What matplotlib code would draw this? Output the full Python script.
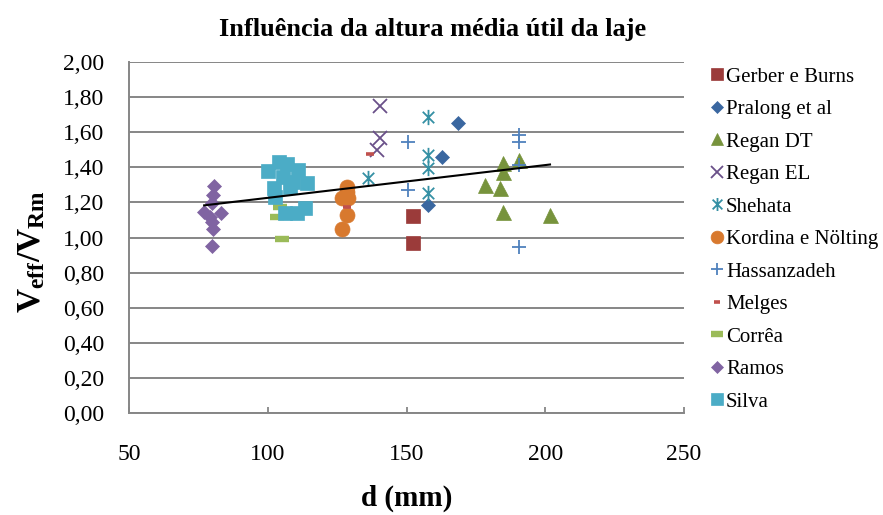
import numpy as np
import matplotlib
matplotlib.use("Agg")
import matplotlib.pyplot as plt
from matplotlib.path import Path
from matplotlib.ticker import FuncFormatter, MultipleLocator

plt.rcParams["font.family"] = ["Liberation Serif", "DejaVu Serif"]
plt.rcParams["mathtext.fontset"] = "custom"
plt.rcParams["mathtext.rm"] = "Liberation Serif"
plt.rcParams["mathtext.bf"] = "Liberation Serif:bold"
plt.rcParams["mathtext.it"] = "Liberation Serif:italic"

# ---- data: effective depth d (mm) and V_eff / V_Rm per author ----
gerber_d = [152.4, 152.4]
gerber_v = [1.123, 0.967]

pralong_d = [168.6, 162.6, 157.8]
pralong_v = [1.654, 1.460, 1.185]

regan_dt_d = [178.2, 184.6, 184.6, 183.6, 184.8, 190.6, 201.7]
regan_dt_v = [1.299, 1.422, 1.375, 1.280, 1.147, 1.441, 1.128]

regan_el_d = [140.4, 140.4, 139.2]
regan_el_v = [1.750, 1.565, 1.498]

shehata_d = [136.2, 157.8, 157.8, 157.8, 157.8]
shehata_v = [1.337, 1.684, 1.470, 1.394, 1.252]

kordina_d = [128.4, 128.6, 126.6, 129.0, 128.4, 126.6]
kordina_v = [1.289, 1.260, 1.223, 1.223, 1.128, 1.047]

hassan_d = [150.6, 150.6, 190.6, 190.6, 190.6, 190.6]
hassan_v = [1.545, 1.271, 1.584, 1.545, 1.413, 0.948]

melges_d = [136.8, 128.6]
melges_v = [1.474, 1.176]

correa_d = [104.3, 103.1, 105.2]
correa_v = [1.176, 1.119, 0.992]

ramos_d = [80.5, 80.1, 79.9, 77.0, 83.0, 79.1, 79.9, 80.3, 79.7]
ramos_v = [1.293, 1.242, 1.195, 1.147, 1.138, 1.119, 1.090, 1.047, 0.952]

silva_d = [104.1, 106.7, 100.1, 110.9, 105.5, 114.0, 109.1, 102.2, 107.9,
           102.5, 106.1, 110.3, 113.3]
silva_v = [1.432, 1.419, 1.379, 1.384, 1.346, 1.309, 1.318, 1.280, 1.289,
           1.232, 1.138, 1.138, 1.166]

labels = ["Gerber e Burns", "Pralong et al", "Regan DT", "Regan EL", "Shehata",
          "Kordina e Nölting", "Hassanzadeh", "Melges", "Corrêa", "Ramos", "Silva"]

# asterisk marker: vertical stroke plus two diagonals
ast = Path([(0, -1), (0, 1), (-0.75, -0.75), (0.75, 0.75), (-0.75, 0.75), (0.75, -0.75)],
           [Path.MOVETO, Path.LINETO, Path.MOVETO, Path.LINETO, Path.MOVETO, Path.LINETO])

styles = [
    dict(marker="s", ms=10.0, mfc="#9B3B3A", mec="#9B3B3A", mew=0.5),
    dict(marker="D", ms=7.4, mfc="#3A67A0", mec="#3A67A0", mew=0.5),
    dict(marker="^", ms=10.8, mfc="#77933C", mec="#77933C", mew=0.5),
    dict(marker="x", ms=9.4, mfc="none", mec="#6A5089", mew=1.3),
    dict(marker=ast, ms=11.0, mfc="none", mec="#3590A4", mew=1.3),
    dict(marker="o", ms=10.8, mfc="#D8792E", mec="#D8792E", mew=0.5),
    dict(marker="+", ms=9.8, mfc="none", mec="#4F81BD", mew=1.3),
    dict(marker="_", ms=5.8, mfc="#C0504D", mec="#C0504D", mew=2.6),
    dict(marker="_", ms=10.5, mfc="#9BBB59", mec="#9BBB59", mew=4.6),
    dict(marker="D", ms=7.4, mfc="#8064A2", mec="#8064A2", mew=0.5),
    dict(marker="s", ms=10.0, mfc="#4BACC6", mec="#4BACC6", mew=0.5),
]

series = [(gerber_d, gerber_v), (pralong_d, pralong_v), (regan_dt_d, regan_dt_v),
          (regan_el_d, regan_el_v), (shehata_d, shehata_v), (kordina_d, kordina_v),
          (hassan_d, hassan_v), (melges_d, melges_v), (correa_d, correa_v),
          (ramos_d, ramos_v), (silva_d, silva_v)]

fig = plt.figure(figsize=(8.83, 5.15), dpi=100)
ax = fig.add_axes([0.1464, 0.1975, 0.6282, 0.6825])

handles = []
for (d, v), st, lab in zip(series, styles, labels):
    h, = ax.plot(d, v, linestyle="none", label=lab, zorder=3, **st)
    handles.append(h)

# linear trend over all points
all_d = np.concatenate([np.asarray(d, float) for d, _ in series])
all_v = np.concatenate([np.asarray(v, float) for _, v in series])
slope, intercept = np.polyfit(all_d, all_v, 1)
xt = np.array([all_d.min(), all_d.max()])
ax.plot(xt, slope * xt + intercept, color="black", lw=1.5, zorder=5)

ax.set_xlim(50, 250)
ax.set_ylim(0, 2)
ax.xaxis.set_major_locator(MultipleLocator(50))
ax.yaxis.set_major_locator(MultipleLocator(0.2))
ax.yaxis.set_major_formatter(FuncFormatter(lambda y, _: f"{y:.2f}".replace(".", ",")))

grid_c = "#868686"
ax.yaxis.grid(True, color=grid_c, lw=1.4)
ax.set_axisbelow(True)
for s in ("top", "right"):
    ax.spines[s].set_visible(False)
for s in ("left", "bottom"):
    ax.spines[s].set_color(grid_c)
    ax.spines[s].set_linewidth(1.4)
ax.tick_params(axis="x", direction="in", length=4, width=1.3, color=grid_c,
               labelsize=17, pad=22)
ax.tick_params(axis="y", length=0, labelsize=17, pad=18)

ax.set_xlabel("d (mm)", fontsize=21, fontweight="bold", labelpad=14)
ax.set_ylabel(r"$\mathbf{V_{eff}/V_{Rm}}$", fontsize=24)
ax.yaxis.set_label_coords(-0.148, 0.46)

fig.text(0.49, 0.942, "Influência da altura média útil da laje", ha="center",
         va="center", fontsize=19, fontweight="bold")

fig.legend(handles=handles, labels=labels, loc="upper left",
           bbox_to_anchor=(0.8034, 0.870), bbox_transform=fig.transFigure,
           frameon=False, fontsize=15, handlelength=0.7, handletextpad=0.1,
           labelspacing=0.62, borderpad=0, borderaxespad=0, markerscale=0.85)

fig.savefig("out.png", dpi=100)
